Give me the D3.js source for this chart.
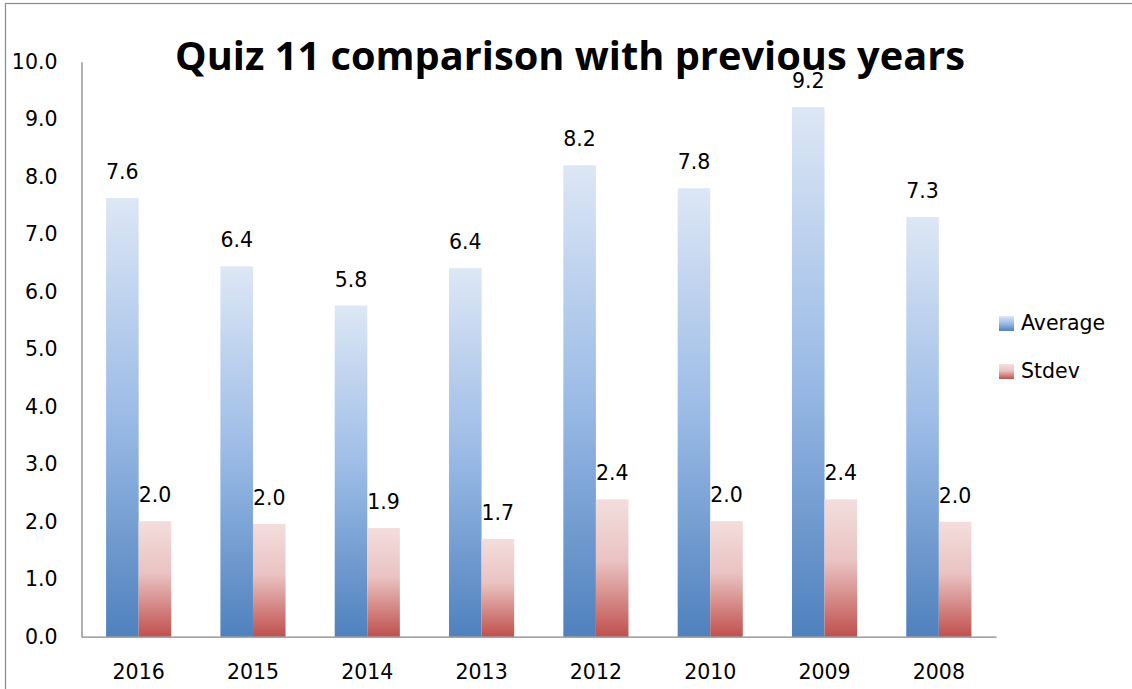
<!DOCTYPE html>
<html>
<head>
<meta charset="utf-8">
<script src="https://cdn.jsdelivr.net/npm/d3@7"></script>
<style>
  html, body { margin: 0; padding: 0; background: #fff; }
  svg { display: block; }
</style>
</head>
<body>
<svg id="chart" width="1132" height="689"></svg>
<script>
// ---- Data ----
const categories = ["2016", "2015", "2014", "2013", "2012", "2010", "2009", "2008"];
const seriesNames = ["Average", "Stdev"];
const averageValues = [7.63, 6.44, 5.76, 6.41, 8.20, 7.80, 9.21, 7.30];
const stdevValues = [2.01, 1.96, 1.89, 1.70, 2.39, 2.01, 2.39, 2.00];
const yTicks = [0, 1, 2, 3, 4, 5, 6, 7, 8, 9, 10];
const titleText = "Quiz 11 comparison with previous years";

const svg = d3.select("#chart");
const W = 1132, H = 689;
const plot = { left: 81.5, right: 996, top: 61.7, bottom: 636.7 };
const labelFont = "'DejaVu Sans', sans-serif";
const labelSize = 20.5;

// gradients
const defs = svg.append("defs");
const gradSpecs = {
  Average: [["0%", "#dde7f5"], ["50%", "#9bbbe6"], ["100%", "#4f81bd"]],
  Stdev:   [["0%", "#f3dedd"], ["45%", "#e9c3c2"], ["100%", "#c0504d"]]
};
Object.entries(gradSpecs).forEach(([name, stops]) => {
  const g = defs.append("linearGradient").attr("id", "grad-" + name)
    .attr("x1", 0).attr("y1", 0).attr("x2", 0).attr("y2", 1);
  stops.forEach(([o, c]) => g.append("stop").attr("offset", o).attr("stop-color", c));
});

// outer chart border
svg.append("rect").attr("x", 5.5).attr("y", 3.5).attr("width", W + 20).attr("height", H + 20)
  .attr("fill", "#fff").attr("stroke", "#8a8a8a").attr("stroke-width", 1.2);

// scales
const x0 = d3.scaleBand().domain(categories).range([plot.left, plot.right]).padding(0);
const x1 = d3.scaleBand().domain(seriesNames).range([0, x0.bandwidth()])
  .paddingInner(0).paddingOuter(0.755);
const y = d3.scaleLinear().domain([0, 10]).range([plot.bottom, plot.top]);

const data = categories.map((c, i) => ({ cat: c, values: [
  { name: "Average", v: averageValues[i] },
  { name: "Stdev", v: stdevValues[i] }
]}));

// bars
const groups = svg.append("g").selectAll("g").data(data).join("g")
  .attr("transform", d => `translate(${x0(d.cat)},0)`);
groups.selectAll("rect").data(d => d.values).join("rect")
  .attr("x", d => x1(d.name))
  .attr("y", d => y(d.v))
  .attr("width", x1.bandwidth())
  .attr("height", d => y(0) - y(d.v))
  .attr("fill", d => `url(#grad-${d.name})`);

// value labels
const fmt = d3.format(".1f");
groups.selectAll("text").data(d => d.values).join("text")
  .attr("x", d => x1(d.name) + x1.bandwidth() / 2)
  .attr("y", d => y(d.v) - 19)
  .attr("text-anchor", "middle")
  .style("font-family", labelFont).style("font-size", labelSize + "px").style("fill", "#000")
  .text(d => fmt(d.v));

// y axis
const yAxis = d3.axisLeft(y).tickValues(yTicks).tickFormat(d3.format(".1f")).tickSize(0).tickPadding(24);
const gy = svg.append("g").attr("transform", `translate(${plot.left},0)`).call(yAxis);
gy.select(".domain").attr("stroke", "#868686").attr("stroke-width", 1.3);
gy.selectAll("text").style("font-family", labelFont).style("font-size", labelSize + "px").style("fill", "#000");

// x axis
const xAxis = d3.axisBottom(x0).tickSize(0).tickPadding(28);
const gx = svg.append("g").attr("transform", `translate(0,${plot.bottom})`).call(xAxis);
gx.select(".domain").attr("stroke", "#868686").attr("stroke-width", 1.3);
gx.selectAll("text").style("font-family", labelFont).style("font-size", labelSize + "px").style("fill", "#000");

// title
svg.append("text")
  .attr("x", 570).attr("y", 70)
  .attr("text-anchor", "middle")
  .style("font-family", "'Open Sans', sans-serif")
  .style("font-weight", "bold")
  .style("font-size", "39px")
  .style("fill", "#000")
  .attr("textLength", 790)
  .attr("lengthAdjust", "spacingAndGlyphs")
  .text(titleText);

// legend
const legend = svg.append("g");
const legendY = [316, 364];
seriesNames.forEach((name, i) => {
  legend.append("rect").attr("x", 999).attr("y", legendY[i]).attr("width", 15).attr("height", 15)
    .attr("fill", `url(#grad-${name})`);
  legend.append("text").attr("x", 1021).attr("y", legendY[i] + 13.5)
    .style("font-family", labelFont).style("font-size", labelSize + "px").style("fill", "#000")
    .text(name);
});
</script>
</body>
</html>
